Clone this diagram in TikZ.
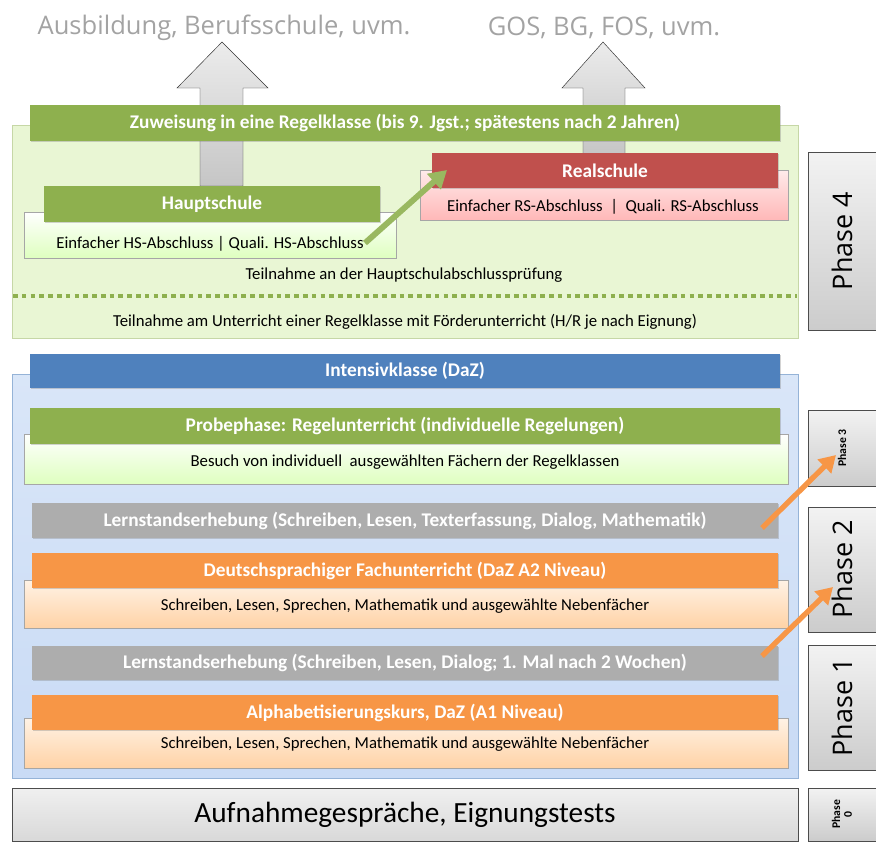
\documentclass[tikz,border=0pt]{standalone}
\usepackage{fontspec}
\setmainfont{Carlito}
\newfontfamily\headfont{Open Sans}
\usetikzlibrary{fit,shadows,arrows.meta}

\definecolor{hdrgreen}{HTML}{8EB04E}
\definecolor{hdrred}{HTML}{C0504D}
\definecolor{hdrblue}{HTML}{4F81BD}
\definecolor{hdrorange}{HTML}{F79646}
\definecolor{hdrgray}{HTML}{ADADAD}
\definecolor{bggreen}{HTML}{E9F6D4}
\definecolor{bgblue}{HTML}{C9DBF5}
\definecolor{topgray}{HTML}{A3A3A3}

\tikzset{
  hdr/.style={inner sep=0pt,
              drop shadow={opacity=0.35, shadow xshift=1.2pt, shadow yshift=-1.2pt}},
  hdrtext/.style={text=white, font=\fontsize{16.5}{18}\selectfont\bfseries},
  bodybox/.style={inner sep=0pt, draw=black!35,
              drop shadow={opacity=0.3, shadow xshift=1pt, shadow yshift=-1pt}},
  bodytext/.style={font=\fontsize{14.3}{16}\selectfont},
  phasebox/.style={inner sep=0pt, draw=black!70, top color=gray!10, bottom color=gray!40,
              drop shadow={opacity=0.25, shadow xshift=1pt, shadow yshift=-1pt}},
  phasetext/.style={rotate=90, font=\headfont\fontsize{23}{25}\selectfont},
  phasesmall/.style={rotate=90, font=\fontsize{10}{10}\selectfont\bfseries, align=center},
  blockarrow/.style={draw=black!80, top color=gray!15, bottom color=gray!45},
  greenarrow/.style={-{Triangle[length=15pt,width=17pt]}, line width=5pt, hdrgreen!90},
  orangearrow/.style={-{Triangle[length=14pt,width=16pt]}, line width=4.5pt, hdrorange}
}

\begin{document}
\begin{tikzpicture}[x=0.03cm, y=-0.03cm]
\useasboundingbox (0,0) rectangle (876,841);

% ziele oben
\node[text=topgray, font=\headfont\fontsize{21.8}{24}\selectfont] (ausbildung) at (224,28) {Ausbildung, Berufsschule, uvm.};
\node[text=topgray, font=\headfont\fontsize{21.8}{24}\selectfont] (gos) at (604,28) {GOS, BG, FOS, uvm.};

% phase 4
\node[inner sep=0pt, draw=hdrgreen!50, fill=bggreen, fit={(12,125) (798,338)}] (phasefourbg) {};
\draw[blockarrow] (200,186) -- (200,88) -- (177,88) -- (222,42) -- (268,88) -- (243,88) -- (243,186) -- cycle;
\draw[blockarrow] (583,154) -- (583,88) -- (562,88) -- (603,42) -- (645,88) -- (625,88) -- (625,154) -- cycle;
\node[hdr, fill=hdrgreen, fit={(30,105) (780,141)}] (zuweisung) {};
\node[hdrtext] at (zuweisung) {Zuweisung in eine Regelklasse (bis 9. Jgst.; spätestens nach 2 Jahren)};

\node[bodybox, top color=white, bottom color=green!35!lime!25, fit={(24,212) (396,258)}] (hauptbody) {};
\node[bodytext] at (210,244) {Einfacher HS-Abschluss | Quali. HS-Abschluss};
\node[hdr, fill=hdrgreen, fit={(44,186) (380,222)}] (haupt) {};
\node[hdrtext] at (haupt) {Hauptschule};

\node[bodybox, top color=red!8, bottom color=red!28, fit={(420,170) (788,220)}] (realbody) {};
\node[bodytext] at (603,207) {Einfacher RS-Abschluss \ | \ Quali. RS-Abschluss};
\node[hdr, fill=hdrred, fit={(432,153) (778,188)}] (real) {};
\node[hdrtext] at (real) {Realschule};

\coordinate (upstart) at (365,243);
\coordinate (upend) at (447,170);
\draw[greenarrow] (upstart) -- (upend);

\node[bodytext] (pruefung) at (404,275) {Teilnahme an der Hauptschulabschlussprüfung};
\draw[hdrgreen, line width=2.6pt, dash pattern=on 4pt off 3.5pt] (13,296) -- (797,296);
\node[bodytext] (foerder) at (405,322) {Teilnahme am Unterricht einer Regelklasse mit Förderunterricht (H/R je nach Eignung)};

% intensivklasse
\node[inner sep=0pt, draw=hdrblue!60, top color=bgblue!70, bottom color=bgblue, fit={(12,374) (798,778)}] (intensivbg) {};
\node[hdr, fill=hdrblue, fit={(30,354) (780,388)}] (intensiv) {};
\node[hdrtext] at (intensiv) {Intensivklasse (DaZ)};

\node[bodybox, top color=white, bottom color=green!35!lime!25, fit={(24,434) (788,484)}] (probebody) {};
\node[bodytext] at (405,462) {Besuch von individuell \ ausgewählten Fächern der Regelklassen};
\node[hdr, fill=hdrgreen, fit={(30,408) (780,444)}] (probe) {};
\node[hdrtext] at (probe) {Probephase: Regelunterricht (individuelle Regelungen)};

\node[hdr, fill=hdrgray, fit={(32,503) (778,538)}] (lernzwei) {};
\node[hdrtext] at (lernzwei) {Lernstandserhebung (Schreiben, Lesen, Texterfassung, Dialog, Mathematik)};

\node[bodybox, top color=orange!10, bottom color=orange!35, fit={(24,580) (788,628)}] (fachbody) {};
\node[bodytext] at (405,606) {Schreiben, Lesen, Sprechen, Mathematik und ausgewählte Nebenfächer};
\node[hdr, fill=hdrorange, fit={(32,553) (778,588)}] (fach) {};
\node[hdrtext] at (fach) {Deutschsprachiger Fachunterricht (DaZ A2 Niveau)};

\node[hdr, fill=hdrgray, fit={(32,646) (778,680)}] (lerneins) {};
\node[hdrtext] at (lerneins) {Lernstandserhebung (Schreiben, Lesen, Dialog; 1. Mal nach 2 Wochen)};

\node[bodybox, top color=orange!10, bottom color=orange!35, fit={(24,718) (788,768)}] (alphabody) {};
\node[bodytext] at (405,744) {Schreiben, Lesen, Sprechen, Mathematik und ausgewählte Nebenfächer};
\node[hdr, fill=hdrorange, fit={(32,695) (778,730)}] (alpha) {};
\node[hdrtext] at (alpha) {Alphabetisierungskurs, DaZ (A1 Niveau)};

% phase 0
\node[phasebox, top color=gray!12, bottom color=gray!30, fit={(12,788) (798,841)}] (aufnahme) {};
\node[font=\fontsize{25}{28}\selectfont] at (aufnahme) {Aufnahmegespräche, Eignungstests};

% phasen rechts
\node[phasebox, fit={(808,152) (876,330)}] (phasefour) {};
\node[phasetext] at (phasefour.center) {Phase 4};
\node[phasebox, fit={(808,410) (876,486)}] (phasethree) {};
\node[phasesmall] at (phasethree.center) {Phase 3};
\node[phasebox, fit={(808,507) (876,632)}] (phasetwo) {};
\node[phasetext] at (phasetwo.center) {Phase 2};
\node[phasebox, fit={(808,645) (876,770)}] (phaseone) {};
\node[phasetext] at (phaseone.center) {Phase 1};
\node[phasebox, fit={(808,788) (876,841)}] (phasezero) {};
\node[phasesmall] at (phasezero.center) {Phase\\0};

\coordinate (drei) at (762,528);
\coordinate (zwei) at (762,656);
\draw[orangearrow] (drei) -- (836,455);
\draw[orangearrow] (zwei) -- (833,587);

\end{tikzpicture}
\end{document}
